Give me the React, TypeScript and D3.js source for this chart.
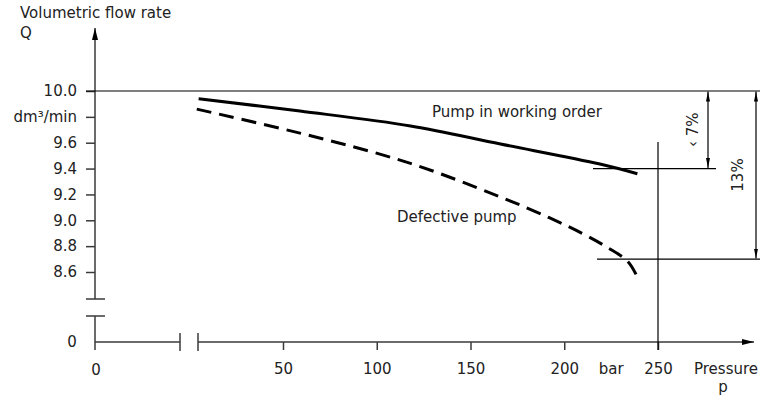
import React, { useEffect, useRef } from "react";
import * as d3 from "d3";

// values
const pressureTicks = [50, 100, 150, 200, 250];
const flowTicks = [10.0, 9.8, 9.6, 9.4, 9.2, 9.0, 8.8, 8.6];
const flowTickLabels = ["10.0", "dm³/min", "9.6", "9.4", "9.2", "9.0", "8.8", "8.6"];

const workingP = [5, 59, 118, 166, 219, 239];
const workingQ = [9.94, 9.845, 9.73, 9.59, 9.435, 9.36];

const defectiveP = [4, 63, 118, 166, 192, 210, 223, 234, 239];
const defectiveQ = [9.86, 9.66, 9.44, 9.18, 9.02, 8.895, 8.79, 8.68, 8.56];

const ratedQ = 10.0;
const ratedP = 250;
const workingLimit = 9.4;
const defectiveLimit = 8.7;

const FONT = "DejaVu Sans";

export default function App() {
  const ref = useRef<SVGSVGElement>(null);

  useEffect(() => {
    document.body.style.margin = "0";
    const svg = d3.select(ref.current);
    svg.selectAll("*").remove();

    const width = 760, height = 398;
    const x = d3.scaleLinear().domain([50, 250]).range([283, 658]);
    const y = d3.scaleLinear().domain([8.6, 10]).range([272, 91]);
    const axisX = 95;    // Q axis position (p = 0, drawn broken)
    const axisY = 342;   // p axis position (Q = 0, drawn broken)
    const axisColor = "#3a3a3a";
    const textColor = "#222";

    const defs = svg.append("defs");
    defs.append("marker")
      .attr("id", "dim")
      .attr("viewBox", "0 0 10 4")
      .attr("refX", 10).attr("refY", 2)
      .attr("markerWidth", 10).attr("markerHeight", 4)
      .attr("markerUnits", "userSpaceOnUse")
      .attr("orient", "auto-start-reverse")
      .append("path").attr("d", "M0,0L10,2L0,4Z").attr("fill", "#000");
    defs.append("marker")
      .attr("id", "axisArrow")
      .attr("viewBox", "0 0 12 6")
      .attr("refX", 12).attr("refY", 3)
      .attr("markerWidth", 12).attr("markerHeight", 6)
      .attr("markerUnits", "userSpaceOnUse")
      .attr("orient", "auto")
      .append("path").attr("d", "M0,0L12,3L0,6Z").attr("fill", "#000");

    svg.attr("width", width).attr("height", height)
      .style("font-family", FONT)
      .style("font-size", "15px");

    // Q axis (broken)
    svg.append("line")
      .attr("x1", axisX).attr("x2", axisX)
      .attr("y1", 299).attr("y2", 28)
      .attr("stroke", axisColor).attr("stroke-width", 1.5)
      .attr("marker-end", "url(#axisArrow)");
    svg.append("line")
      .attr("x1", axisX).attr("x2", axisX)
      .attr("y1", 316).attr("y2", 350)
      .attr("stroke", axisColor).attr("stroke-width", 1.5);
    [299, 316].forEach(v => {
      svg.append("line")
        .attr("x1", 86).attr("x2", 105)
        .attr("y1", v).attr("y2", v)
        .attr("stroke", axisColor).attr("stroke-width", 1.5);
    });

    const yAxis = svg.append("g")
      .attr("transform", `translate(${axisX},0)`)
      .call(d3.axisLeft(y)
        .tickValues(flowTicks)
        .tickSize(9)
        .tickPadding(9)
        .tickFormat((d, i) => flowTickLabels[i]));
    yAxis.select(".domain").remove();
    yAxis.selectAll(".tick line").attr("stroke", axisColor).attr("stroke-width", 1.5);
    yAxis.selectAll("text")
      .attr("fill", textColor)
      .style("font-family", FONT)
      .style("font-size", "15px");

    // p axis (broken)
    svg.append("line")
      .attr("x1", axisX).attr("x2", 180)
      .attr("y1", axisY).attr("y2", axisY)
      .attr("stroke", axisColor).attr("stroke-width", 1.5);
    svg.append("line")
      .attr("x1", 198).attr("x2", 754)
      .attr("y1", axisY).attr("y2", axisY)
      .attr("stroke", axisColor).attr("stroke-width", 1.5)
      .attr("marker-end", "url(#axisArrow)");
    [180, 198].forEach(v => {
      svg.append("line")
        .attr("x1", v).attr("x2", v)
        .attr("y1", 333).attr("y2", 351)
        .attr("stroke", axisColor).attr("stroke-width", 1.5);
    });

    const xAxis = svg.append("g")
      .attr("transform", `translate(0,${axisY})`)
      .call(d3.axisBottom(x)
        .tickValues(pressureTicks)
        .tickSize(8)
        .tickPadding(13)
        .tickFormat(d3.format("d")));
    xAxis.select(".domain").remove();
    xAxis.selectAll(".tick line").attr("stroke", axisColor).attr("stroke-width", 1.5);
    xAxis.selectAll("text")
      .attr("fill", textColor)
      .style("font-family", FONT)
      .style("font-size", "15px");

    // zeros of the broken axes
    svg.append("text").attr("x", 72).attr("y", axisY + 5)
      .attr("text-anchor", "middle").attr("fill", textColor).text("0");
    svg.append("text").attr("x", axisX + 1).attr("y", 375)
      .attr("text-anchor", "middle").attr("fill", textColor).text("0");

    // unit and axis titles
    svg.append("text").attr("x", (x(200) + x(250)) / 2).attr("y", 374)
      .attr("text-anchor", "middle").attr("fill", textColor).text("bar");
    svg.append("text").attr("x", 726).attr("y", 374)
      .attr("text-anchor", "middle").attr("fill", textColor).text("Pressure");
    svg.append("text").attr("x", 723).attr("y", 392)
      .attr("text-anchor", "middle").attr("fill", textColor).text("p");
    svg.append("text").attr("x", 20).attr("y", 18)
      .attr("fill", textColor).text("Volumetric flow rate");
    svg.append("text").attr("x", 20).attr("y", 38)
      .attr("fill", textColor).text("Q");

    // reference lines
    svg.append("line")
      .attr("x1", 86).attr("x2", width)
      .attr("y1", y(ratedQ)).attr("y2", y(ratedQ))
      .attr("stroke", "#000").attr("stroke-width", 1.2);
    svg.append("line")
      .attr("x1", x(ratedP)).attr("x2", x(ratedP))
      .attr("y1", 142).attr("y2", 350)
      .attr("stroke", "#000").attr("stroke-width", 1.2);
    svg.append("line")
      .attr("x1", 593).attr("x2", 716)
      .attr("y1", y(workingLimit)).attr("y2", y(workingLimit))
      .attr("stroke", "#000").attr("stroke-width", 1.2);
    svg.append("line")
      .attr("x1", 597).attr("x2", width)
      .attr("y1", y(defectiveLimit)).attr("y2", y(defectiveLimit))
      .attr("stroke", "#000").attr("stroke-width", 1.2);

    // dimension arrows
    const dims = [
      { xPos: 708, to: workingLimit, label: "‹ 7%", lx: 698 },
      { xPos: 756, to: defectiveLimit, label: "13%", lx: 743 },
    ];
    dims.forEach(dm => {
      svg.append("line")
        .attr("x1", dm.xPos).attr("x2", dm.xPos)
        .attr("y1", y(ratedQ) + 0.5).attr("y2", y(dm.to) - 0.5)
        .attr("stroke", "#000").attr("stroke-width", 1.2)
        .attr("marker-start", "url(#dim)")
        .attr("marker-end", "url(#dim)");
      const my = (y(ratedQ) + y(dm.to)) / 2;
      svg.append("text")
        .attr("transform", `translate(${dm.lx},${my}) rotate(-90)`)
        .attr("text-anchor", "middle")
        .attr("fill", textColor)
        .text(dm.label);
    });

    // pump curves
    const line = d3.line<[number, number]>()
      .x(d => x(d[0]))
      .y(d => y(d[1]))
      .curve(d3.curveCatmullRom.alpha(0.5));

    svg.append("path")
      .datum(d3.zip(workingP, workingQ) as [number, number][])
      .attr("d", line)
      .attr("fill", "none")
      .attr("stroke", "#000")
      .attr("stroke-width", 3);
    svg.append("path")
      .datum(d3.zip(defectiveP, defectiveQ) as [number, number][])
      .attr("d", line)
      .attr("fill", "none")
      .attr("stroke", "#000")
      .attr("stroke-width", 3)
      .attr("stroke-dasharray", "15,8");

    svg.append("text").attr("x", 432).attr("y", 117)
      .attr("fill", textColor).text("Pump in working order");
    svg.append("text").attr("x", 397).attr("y", 222)
      .attr("fill", textColor).text("Defective pump");
  }, []);

  return <svg ref={ref} style={{ display: "block" }} />;
}
